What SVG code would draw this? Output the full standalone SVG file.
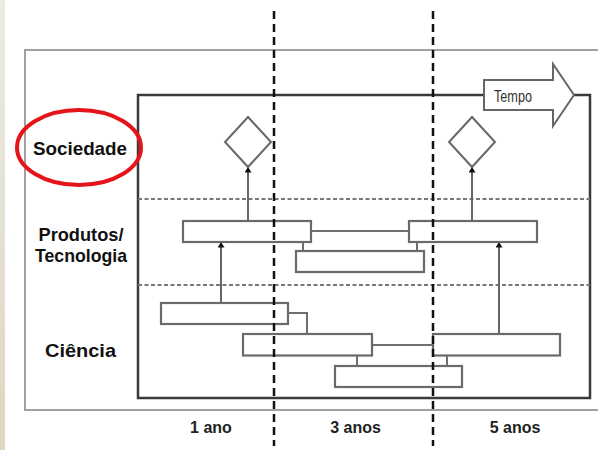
<svg xmlns="http://www.w3.org/2000/svg" width="598" height="450" viewBox="0 0 598 450">
  <defs>
    <marker id="tri" viewBox="0 0 8 10" refX="8" refY="5" markerWidth="8" markerHeight="7" markerUnits="userSpaceOnUse" orient="auto">
      <path d="M0,0 L8,5 L0,10 Z" fill="#111"/>
    </marker>
    <linearGradient id="strip" x1="0" y1="0" x2="0" y2="1">
      <stop offset="0" stop-color="#ecebe3"/>
      <stop offset="1" stop-color="#ddd6c2"/>
    </linearGradient>
  </defs>
  <style>
    .frame { fill: none; stroke: #a0a0a0; stroke-width: 2; }
    .inner { fill: none; stroke: #3a3a3a; stroke-width: 2.5; }
    .band { fill: none; stroke: #777; stroke-width: 2; stroke-dasharray: 4 2.5; }
    .year { fill: none; stroke: #111; stroke-width: 2.5; stroke-dasharray: 8 5; }
    .box { fill: #fff; stroke: #6a6a6a; stroke-width: 2.2; }
    .link { fill: none; stroke: #6f6f6f; stroke-width: 2; }
    .up { fill: none; stroke: #666; stroke-width: 2; }
    .goal { fill: #fff; stroke: #666; stroke-width: 2; }
    .lbl { font-family: "Liberation Sans", Arial, sans-serif; font-weight: bold; font-size: 19px; fill: #111; text-anchor: middle; }
    .yr { font-family: "Liberation Sans", Arial, sans-serif; font-weight: bold; font-size: 16px; fill: #222; text-anchor: middle; }
  </style>

  <rect x="0" y="0" width="598" height="450" fill="#fff"/>
  <rect x="0" y="0" width="5" height="450" fill="url(#strip)"/>

  <!-- outer frame -->
  <rect class="frame" x="25" y="50" width="600" height="360"/>

  <!-- inner chart frame with time arrow -->
  <g id="chart-frame">
    <path class="inner" d="M484,95 L138,95 L138,398 L590,398 L590,95 L574,95"/>
    <path d="M484,80 L553,80 L553,64 L574,95 L553,126 L553,110 L484,110 Z" fill="#fff" stroke="#666" stroke-width="2"/>
    <text x="513" y="102" font-family="Liberation Sans, Arial, sans-serif" font-size="16" fill="#333" text-anchor="middle" textLength="38" lengthAdjust="spacingAndGlyphs">Tempo</text>
  </g>

  <!-- band separators -->
  <line class="band" x1="138" y1="199" x2="590" y2="199"/>
  <line class="band" x1="138" y1="285" x2="590" y2="285"/>

  <!-- row labels -->
  <g id="label-sociedade">
    <ellipse cx="79" cy="147.5" rx="62" ry="37.5" fill="none" stroke="#e5141b" stroke-width="4"/>
    <text class="lbl" x="80" y="155" textLength="94" lengthAdjust="spacingAndGlyphs">Sociedade</text>
  </g>
  <g id="label-produtos">
    <text class="lbl" x="81" y="241" textLength="85" lengthAdjust="spacingAndGlyphs">Produtos/</text>
    <text class="lbl" x="81" y="262" textLength="92" lengthAdjust="spacingAndGlyphs">Tecnologia</text>
  </g>
  <g id="label-ciencia">
    <text class="lbl" x="80.5" y="357" textLength="71" lengthAdjust="spacingAndGlyphs">Ciência</text>
  </g>

  <!-- connectors -->
  <g id="connectors">
    <line class="link" x1="311" y1="231" x2="409" y2="231"/>
    <line class="link" x1="303" y1="242" x2="303" y2="251"/>
    <line class="link" x1="417" y1="242" x2="417" y2="251"/>
    <path class="link" d="M288,313 L307,313 L307,334"/>
    <line class="link" x1="372" y1="345" x2="433" y2="345"/>
    <line class="link" x1="357" y1="356" x2="357" y2="366"/>
    <line class="link" x1="447" y1="356" x2="447" y2="366"/>
    <line class="up" x1="221" y1="303" x2="221" y2="242" marker-end="url(#tri)"/>
    <line class="up" x1="499" y1="334" x2="499" y2="242" marker-end="url(#tri)"/>
    <line class="up" x1="248" y1="221" x2="248" y2="167" marker-end="url(#tri)"/>
    <line class="up" x1="472" y1="221" x2="472" y2="167" marker-end="url(#tri)"/>
  </g>

  <!-- society outcomes -->
  <g id="goal-1"><path class="goal" d="M248,117 L271,142 L248,167 L225,142 Z"/></g>
  <g id="goal-2"><path class="goal" d="M472,117 L495,142 L472,167 L449,142 Z"/></g>

  <!-- product / technology bars -->
  <g id="prod-1"><rect class="box" x="183" y="221" width="128" height="21"/></g>
  <g id="prod-2"><rect class="box" x="409" y="221" width="128" height="21"/></g>
  <g id="prod-3"><rect class="box" x="296" y="251" width="128" height="21"/></g>

  <!-- science bars -->
  <g id="sci-1"><rect class="box" x="161" y="303" width="127" height="21"/></g>
  <g id="sci-2"><rect class="box" x="243" y="334" width="129" height="21.5"/></g>
  <g id="sci-3"><rect class="box" x="433" y="334" width="127" height="21.5"/></g>
  <g id="sci-4"><rect class="box" x="335" y="366" width="127" height="21"/></g>

  <!-- year markers -->
  <line class="year" x1="274" y1="11" x2="274" y2="446"/>
  <line class="year" x1="433" y1="11" x2="433" y2="446"/>

  <text class="yr" x="211" y="433">1 ano</text>
  <text class="yr" x="355.5" y="433">3 anos</text>
  <text class="yr" x="515" y="433">5 anos</text>
</svg>
